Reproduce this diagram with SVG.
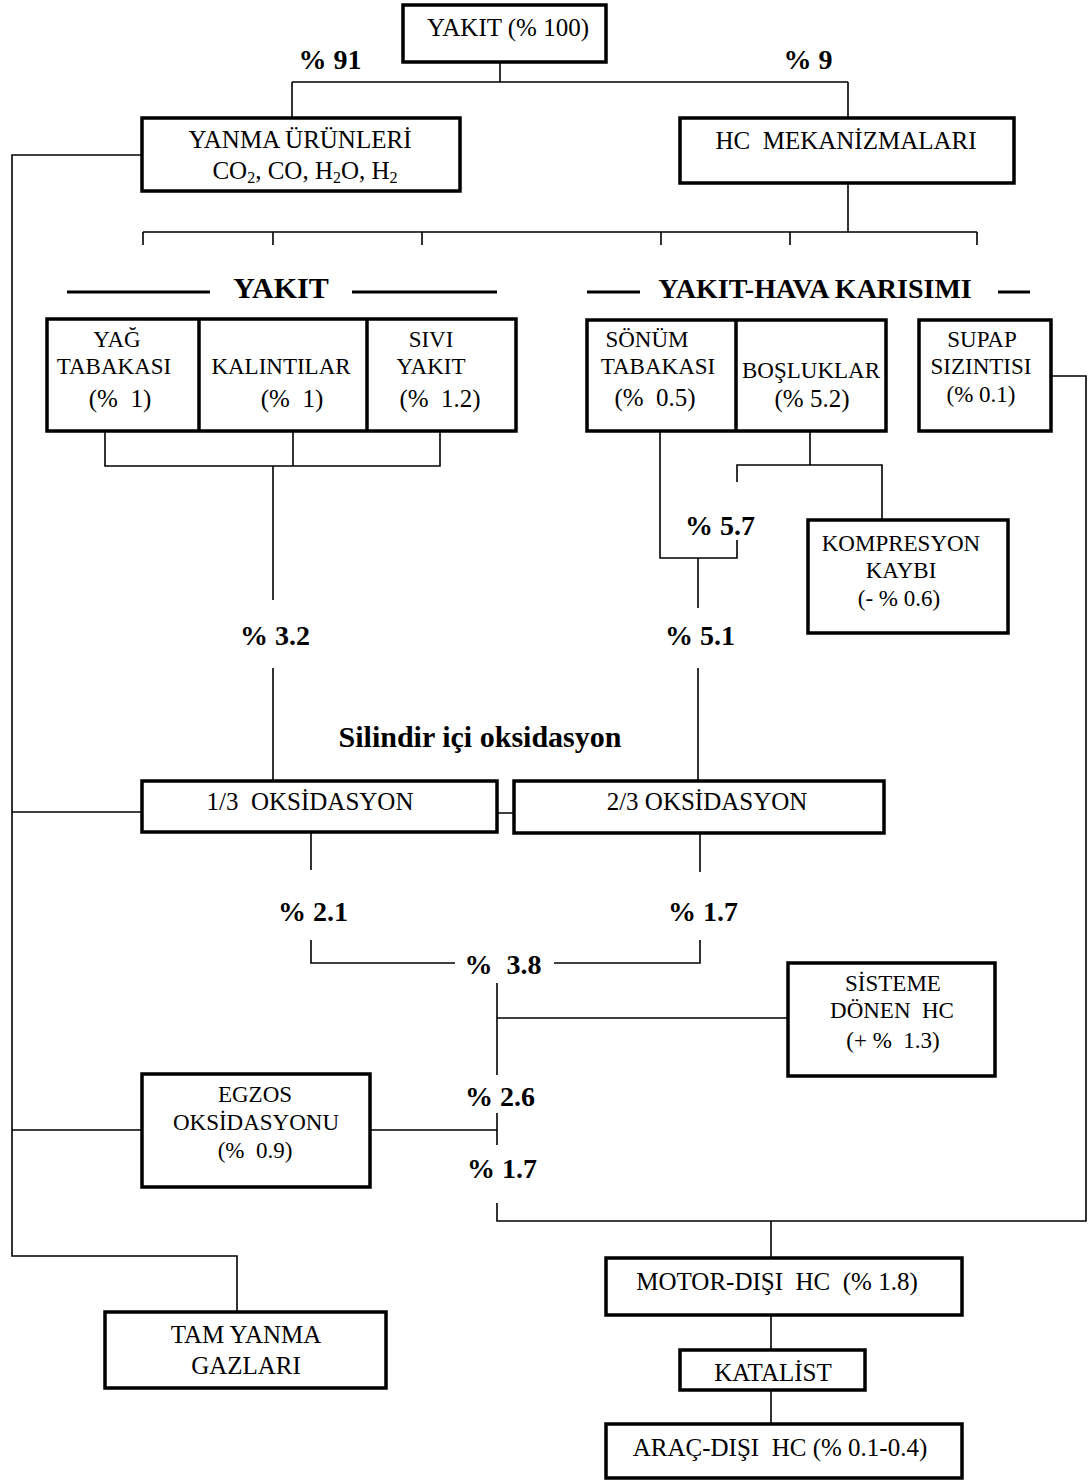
<svg xmlns="http://www.w3.org/2000/svg" width="1091" height="1481" viewBox="0 0 1091 1481">
<style>
.box{fill:#fff;stroke:#000;stroke-width:3.5}
.ln{fill:none;stroke:#000;stroke-width:1.6}
.hl{fill:none;stroke:#000;stroke-width:3}
text{font-family:"Liberation Serif","Times New Roman",serif;fill:#000;text-anchor:middle;white-space:pre}
.t{font-size:25px}
.s{font-size:23px}
.p{font-size:28px;font-weight:bold}
.h{font-size:30px;font-weight:bold}
</style>
<rect width="1091" height="1481" fill="#fff"/>
<g id="connectors">
<path class="ln" d="M500 62V82M292 82H848M292 82V118M848 82V118"/>
<path class="ln" d="M848 183V232M143 232H977M143 232V245M273 232V245M422 232V245M661 232V245M790 232V245M977 232V245"/>
<path class="ln" d="M142 155H12V1256H237V1312"/>
<path class="ln" d="M105 431V466H440V431M293 431V466M273 466V600M273 668V781"/>
<path class="ln" d="M660 431V558H737V540M810 431V465M737 482V465H882V520M698 558V608M698 668V781"/>
<path class="ln" d="M1051 376H1086V1221H497V1203M771 1221V1258"/>
<path class="ln" d="M12 812H142M497 813H514"/>
<path class="ln" d="M311 833V870M311 940V963H455M554 963H700V940M700 833V872"/>
<path class="ln" d="M497 983V1075M497 1018H788"/>
<path class="ln" d="M12 1130H142M370 1130H497M497 1113V1145"/>
<path class="ln" d="M771 1316V1350M771 1390V1424"/>
<path class="hl" d="M67 292H210M352 292H497M587 292H640M998 292H1030"/>
</g>
<g id="yakit100"><rect class="box" x="403" y="5" width="203" height="57"/><text class="t" x="508" y="36">YAKIT (% 100)</text></g>
<text class="p" x="330" y="69">% 91</text>
<text class="p" x="808" y="69">% 9</text>
<g id="yanma"><rect class="box" x="142" y="118" width="318" height="73"/><text class="t" x="300" y="148">YANMA ÜRÜNLERİ</text><text class="t" x="305" y="179">CO<tspan font-size="16" dy="4">2</tspan><tspan dy="-4">, CO, H</tspan><tspan font-size="16" dy="4">2</tspan><tspan dy="-4">O, H</tspan><tspan font-size="16" dy="4">2</tspan></text></g>
<g id="hcmek"><rect class="box" x="680" y="118" width="334" height="65"/><text class="t" x="846" y="149">HC  MEKANİZMALARI</text></g>
<text class="h" x="281" y="298">YAKIT</text>
<text class="h" x="815" y="298" style="font-size:28px">YAKIT-HAVA KARISIMI</text>
<g id="yakitgrup"><rect class="box" x="47" y="319" width="469" height="112"/><path class="hl" d="M199 319V431M367 319V431" style="stroke-width:3.5"/>
<text class="s" x="117" y="347">YAĞ</text><text class="s" x="114" y="374">TABAKASI</text><text class="t" x="120" y="407">(%  1)</text>
<text class="s" x="281" y="374">KALINTILAR</text><text class="t" x="292" y="407">(%  1)</text>
<text class="s" x="431" y="347">SIVI</text><text class="s" x="431" y="374">YAKIT</text><text class="t" x="440" y="407">(%  1.2)</text></g>
<g id="karisimgrup"><rect class="box" x="587" y="320" width="299" height="111"/><path class="hl" d="M736 320V431" style="stroke-width:3.5"/>
<text class="s" x="647" y="347">SÖNÜM</text><text class="s" x="658" y="374">TABAKASI</text><text class="t" x="655" y="406">(%  0.5)</text>
<text class="s" x="811" y="378">BOŞLUKLAR</text><text class="t" x="812" y="407">(% 5.2)</text></g>
<g id="supap"><rect class="box" x="919" y="320" width="132" height="111"/><text class="s" x="982" y="347">SUPAP</text><text class="s" x="981" y="374">SIZINTISI</text><text class="s" x="981" y="402">(% 0.1)</text></g>
<text class="p" x="720" y="535">% 5.7</text>
<g id="kompresyon"><rect class="box" x="808" y="520" width="200" height="113"/><text class="s" x="901" y="551">KOMPRESYON</text><text class="s" x="901" y="578">KAYBI</text><text class="s" x="899" y="606">(- % 0.6)</text></g>
<text class="p" x="275" y="645">% 3.2</text>
<text class="p" x="700" y="645">% 5.1</text>
<text class="h" x="480" y="747">Silindir içi oksidasyon</text>
<g id="ox13"><rect class="box" x="142" y="781" width="355" height="51"/><text class="t" x="310" y="810">1/3  OKSİDASYON</text></g>
<g id="ox23"><rect class="box" x="514" y="781" width="370" height="52"/><text class="t" x="707" y="810">2/3 OKSİDASYON</text></g>
<text class="p" x="313" y="921">% 2.1</text>
<text class="p" x="703" y="921">% 1.7</text>
<text class="p" x="503" y="974">%  3.8</text>
<g id="sisteme"><rect class="box" x="788" y="963" width="207" height="113"/><text class="s" x="893" y="991">SİSTEME</text><text class="s" x="892" y="1018">DÖNEN  HC</text><text class="s" x="893" y="1048">(+ %  1.3)</text></g>
<text class="p" x="500" y="1106">% 2.6</text>
<g id="egzos"><rect class="box" x="142" y="1074" width="228" height="113"/><text class="s" x="255" y="1102">EGZOS</text><text class="s" x="256" y="1130">OKSİDASYONU</text><text class="s" x="255" y="1158">(%  0.9)</text></g>
<text class="p" x="502" y="1178">% 1.7</text>
<g id="tamyanma"><rect class="box" x="105" y="1312" width="281" height="76"/><text class="t" x="246" y="1343">TAM YANMA</text><text class="t" x="246" y="1374">GAZLARI</text></g>
<g id="motordisi"><rect class="box" x="606" y="1258" width="356" height="57"/><text class="t" x="777" y="1290">MOTOR-DIŞI  HC  (% 1.8)</text></g>
<g id="katalist"><rect class="box" x="680" y="1350" width="185" height="40"/><text class="t" x="773" y="1381">KATALİST</text></g>
<g id="aracdisi"><rect class="box" x="606" y="1424" width="356" height="54"/><text class="t" x="780" y="1456">ARAÇ-DIŞI  HC (% 0.1-0.4)</text></g>
</svg>
